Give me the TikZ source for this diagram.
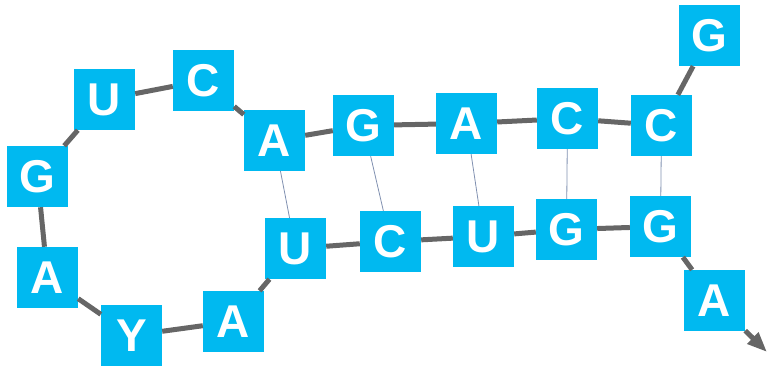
\documentclass[tikz,border=0pt]{standalone}
\usepackage{fontspec}
\setmainfont{Liberation Sans}
\usetikzlibrary{arrows.meta}
\definecolor{boxblue}{RGB}{0,185,240}
\definecolor{bbgray}{RGB}{102,102,102}
\definecolor{pairblue}{RGB}{128,144,176}
\tikzset{
  base/.style={fill=boxblue, draw=none, minimum size=61pt, inner sep=0pt,
    text=white, font=\fontsize{46}{46}\selectfont\bfseries},
  backbone/.style={draw=bbgray, line width=5pt},
  pairline/.style={draw=pairblue, line width=0.8pt}
}
\begin{document}
\begin{tikzpicture}[x=1pt,y=-1pt]
\useasboundingbox (0,0) rectangle (768,369);
% top strand
\node[base] (g1) at (709.5,35.5) {G};
\node[base] (c2) at (661.5,125.5) {C};
\node[base] (c3) at (567.5,118.5) {C};
\node[base] (a4) at (466.5,123.5) {A};
\node[base] (g5) at (363.5,125.5) {G};
\node[base] (a6) at (274.5,140.5) {A};
% loop
\node[base] (c7) at (203.5,80.5) {C};
\node[base] (u8) at (104.5,99.5) {U};
\node[base] (g9) at (37.5,176.5) {G};
\node[base] (a10) at (47.5,277.5) {A};
\node[base] (y11) at (131.5,335.5) {Y};
\node[base] (a12) at (233.5,321.5) {A};
% bottom strand
\node[base] (u13) at (295.5,248.5) {U};
\node[base] (c14) at (390.5,241.5) {C};
\node[base] (u15) at (483.5,236.5) {U};
\node[base] (g16) at (566.5,229.5) {G};
\node[base] (g17) at (660.5,226.5) {G};
\node[base] (a18) at (714.5,300.5) {A};
\coordinate (tip) at (767,352);
% backbone
\draw[backbone] (g1) -- (c2);
\draw[backbone] (c2) -- (c3);
\draw[backbone] (c3) -- (a4);
\draw[backbone] (a4) -- (g5);
\draw[backbone] (g5) -- (a6);
\draw[backbone] (a6) -- (c7);
\draw[backbone] (c7) -- (u8);
\draw[backbone] (u8) -- (g9);
\draw[backbone] (g9) -- (a10);
\draw[backbone] (a10) -- (y11);
\draw[backbone] (y11) -- (a12);
\draw[backbone] (a12) -- (u13);
\draw[backbone] (u13) -- (c14);
\draw[backbone] (c14) -- (u15);
\draw[backbone] (u15) -- (g16);
\draw[backbone] (g16) -- (g17);
\draw[backbone] (g17) -- (a18);
\draw[backbone, -{Triangle[length=20pt,width=15pt]}] (a18) -- (tip);
% base pairs
\draw[pairline] (a6) -- (u13);
\draw[pairline] (g5) -- (c14);
\draw[pairline] (a4) -- (u15);
\draw[pairline] (c3) -- (g16);
\draw[pairline] (c2) -- (g17);
\end{tikzpicture}
\end{document}
